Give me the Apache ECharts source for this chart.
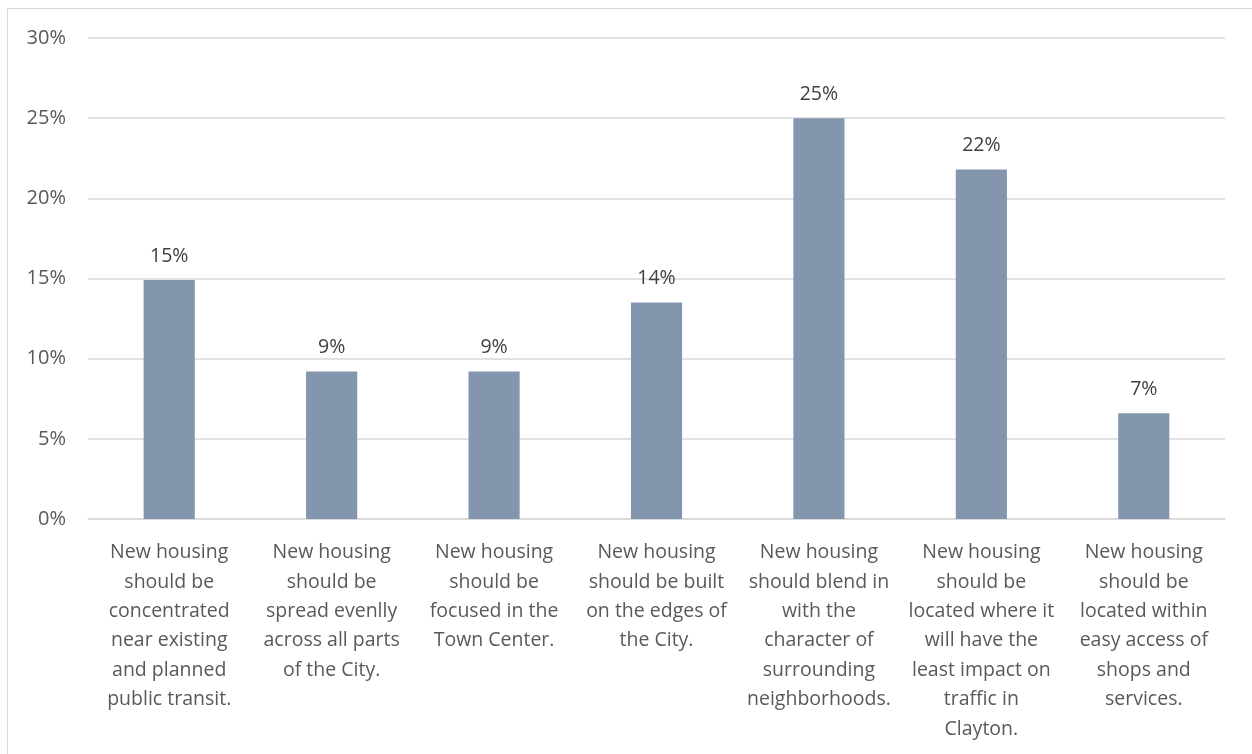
<!DOCTYPE html>
<html><head><meta charset="utf-8">
<script src="https://cdn.jsdelivr.net/npm/echarts@6/dist/echarts.min.js"></script>
<style>
html,body{margin:0;padding:0;background:#fff;}
#frame{position:absolute;left:7px;top:8px;width:1250px;height:750px;border:1.5px solid #d9d9d9;box-sizing:border-box;}
#c{position:absolute;left:0;top:0;width:1252px;height:754px;}
</style></head>
<body>
<div id="frame"></div>
<div id="c"></div>
<script>
const categories = [
  "New housing\nshould be\nconcentrated\nnear existing\nand planned\npublic transit.",
  "New housing\nshould be\nspread evenlly\nacross all parts\nof the City.",
  "New housing\nshould be\nfocused in the\nTown Center.",
  "New housing\nshould be built\non the edges of\nthe City.",
  "New housing\nshould blend in\nwith the\ncharacter of\nsurrounding\nneighborhoods.",
  "New housing\nshould be\nlocated where it\nwill have the\nleast impact on\ntraffic in\nClayton.",
  "New housing\nshould be\nlocated within\neasy access of\nshops and\nservices."
];
const values = [0.149, 0.092, 0.092, 0.135, 0.250, 0.218, 0.066];
const yTicks = [0, 0.05, 0.10, 0.15, 0.20, 0.25, 0.30];

const font = "Open Sans, Liberation Sans, sans-serif";
const chart = echarts.init(document.getElementById('c'));
chart.setOption({
  animation: false,
  grid: {left: 88, right: 27, top: 38, bottom: 235},
  xAxis: {
    type: 'category', data: categories,
    axisLine: {lineStyle: {color: '#d9d9d9', width: 1.5}},
    axisTick: {show: false},
    axisLabel: {interval: 0, color: '#595959', fontFamily: font, fontSize: 19.5, lineHeight: 29.4, margin: 19, align: 'center'}
  },
  yAxis: {
    type: 'value', min: yTicks[0], max: yTicks[yTicks.length-1], interval: 0.05,
    axisLine: {show: false}, axisTick: {show: false},
    splitLine: {lineStyle: {color: '#d9d9d9', width: 1.5}},
    axisLabel: {color: '#595959', fontFamily: font, fontSize: 20, margin: 22,
      formatter: v => Math.round(v*100) + '%'}
  },
  series: [{
    type: 'bar', data: values, barWidth: '31.5%',
    itemStyle: {color: '#8496AE'},
    label: {show: true, position: 'top', distance: 14, color: '#404040', fontFamily: font, fontSize: 19.5,
      formatter: p => Math.round(p.value*100) + '%'}
  }]
});
</script>
</body></html>
